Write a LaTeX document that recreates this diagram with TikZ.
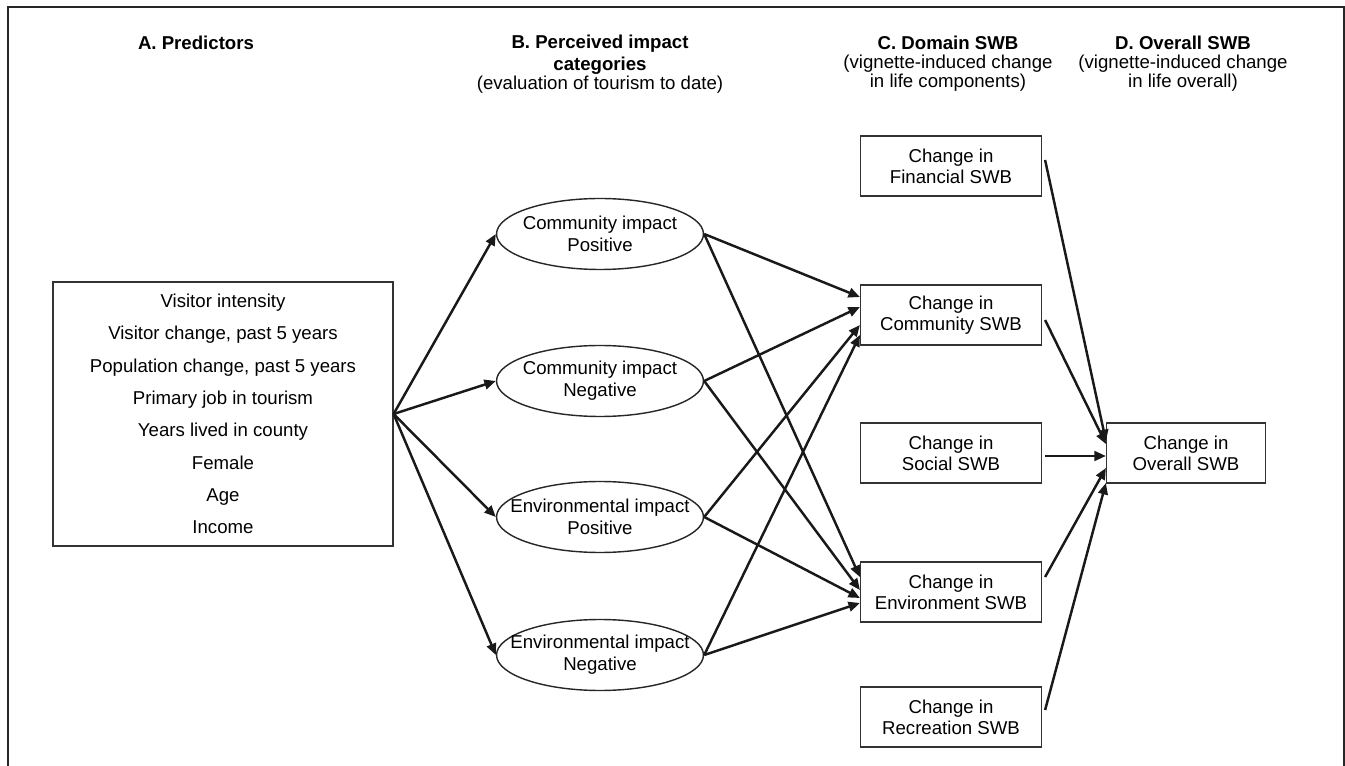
\documentclass[tikz,border=0pt]{standalone}
\usepackage{fontspec}
\setmainfont{Liberation Sans}
\usetikzlibrary{arrows.meta,shapes.geometric}

\tikzset{
  box/.style={draw=black!80, line width=0.7pt, minimum width=3.62cm, minimum height=1.2cm, align=center, font=\fontsize{10.6}{11.9}\selectfont},
  ellip/.style={ellipse, draw=black!85, line width=0.8pt, minimum width=4.14cm, minimum height=1.42cm, inner xsep=-0.4cm, inner ysep=0pt, align=center, font=\fontsize{10.6}{12.5}\selectfont},
  head/.style={font=\fontsize{10.6}{12.5}\selectfont\bfseries, align=center},
  sub/.style={font=\fontsize{10.6}{10.8}\selectfont, align=center},
  arr/.style={-{Triangle[length=6.5pt,width=5.5pt]}, line width=1.4pt, black!90},
}

\begin{document}
\begin{tikzpicture}[x=0.02cm,y=-0.02cm]
\useasboundingbox (0,0) rectangle (1345,766);
\draw[line width=1.1pt, black!85] (8,770) -- (8,7) -- (1344,7) -- (1344,770);

\node[head] (ha) at (196,43) {A. Predictors};
\node[head] (hb) at (600,55) {B. Perceived impact\\categories};
\node[sub] (hbs) at (600,85) {(evaluation of tourism to date)};
\node[head] (hc) at (948,43) {C. Domain SWB};
\node[sub] (hcs) at (948,73.5) {(vignette-induced change\\in life components)};
\node[head] (hd) at (1183,43) {D. Overall SWB};
\node[sub] (hds) at (1183,73.5) {(vignette-induced change\\in life overall)};

\node[draw=black!80, line width=0.7pt, minimum width=6.8cm, minimum height=5.28cm, align=center, font=\fontsize{10.6}{18.4}\selectfont] (preds) at (223,414)
{Visitor intensity\\Visitor change, past 5 years\\Population change, past 5 years\\Primary job in tourism\\Years lived in county\\Female\\Age\\Income};

\node[ellip] (cpos) at (600,234) {Community impact\\Positive};
\node[ellip] (cneg) at (600,381) {Community impact\\Negative};
\node[ellip] (epos) at (600,517) {Environmental impact\\Positive};
\node[ellip] (eneg) at (600,655) {Environmental impact\\Negative};

\node[box] (fin) at (951,166) {Change in\\Financial SWB};
\node[box] (com) at (951,315) {Change in\\Community SWB};
\node[box] (soc) at (951,453) {Change in\\Social SWB};
\node[box] (env) at (951,592) {Change in\\Environment SWB};
\node[box] (rec) at (951,717) {Change in\\Recreation SWB};
\node[box, minimum width=3.18cm] (ovr) at (1186,453) {Change in\\Overall SWB};

\foreach \e in {cpos,cneg,epos,eneg}
\draw[arr] (preds.east) -- (\e.west);

\foreach \e/\a/\b in {cpos/0.36/0.3, cneg/0.16/0.04, epos/-0.2/-0.12, eneg/-0.4/-0.22}{
\draw[arr] (\e.east) -- ([yshift=\a cm]com.west);
\draw[arr] (\e.east) -- ([yshift=\b cm]env.west);
}

\foreach \c/\a/\b in {fin/0.12/0.24, com/-0.1/0.18, soc/-0.06/-0.06, env/0.3/-0.3, rec/0.14/-0.6}
\draw[arr] ([xshift=0.06cm,yshift=\a cm]\c.east) -- ([yshift=\b cm]ovr.west);
\end{tikzpicture}
\end{document}
